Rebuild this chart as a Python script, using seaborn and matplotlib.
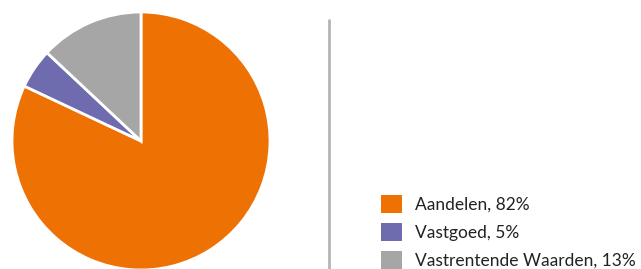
import matplotlib
matplotlib.use("Agg")
import matplotlib.pyplot as plt
import seaborn as sns
from matplotlib.patches import Patch
from matplotlib.lines import Line2D

# Data
labels = ["Aandelen", "Vastgoed", "Vastrentende Waarden"]
shares = [82, 5, 13]
colors = ["#EE7203", "#6F6BAF", "#A7A6A7"]

sns.set_theme(style="white")
plt.rcParams['font.family'] = ['Lato', 'DejaVu Sans']

W, H = 641, 269
fig = plt.figure(figsize=(W / 100, H / 100), dpi=100)

# Pie axes (center ~ (141,141), radius ~129 px)
ax = fig.add_axes([12 / W, (H - 270) / H, 258 / W, 258 / H])
ax.pie(shares, colors=colors, startangle=90, counterclock=False,
       wedgeprops=dict(edgecolor="white", linewidth=2))
ax.set_xlim(-1, 1)
ax.set_ylim(-1, 1)
ax.set_aspect("equal")
ax.axis("off")

# Vertical divider
fig.add_artist(Line2D([329 / W, 329 / W], [0, 1 - 20 / H],
                      color="#B4B4B4", linewidth=2))

# Legend
fs = 12.5
handles = [Patch(facecolor=c, edgecolor="none") for c in colors]
legend_labels = [f"{l}, {s}%" for l, s in zip(labels, shares)]
fig.legend(handles, legend_labels, loc="lower left",
           bbox_to_anchor=(381 / W, 0), frameon=False,
           borderpad=0, borderaxespad=0,
           fontsize=fs, handlelength=1.2, handleheight=1.2,
           handletextpad=0.75, labelspacing=0.6, labelcolor="#222222")

fig.savefig("out.png", dpi=100)
